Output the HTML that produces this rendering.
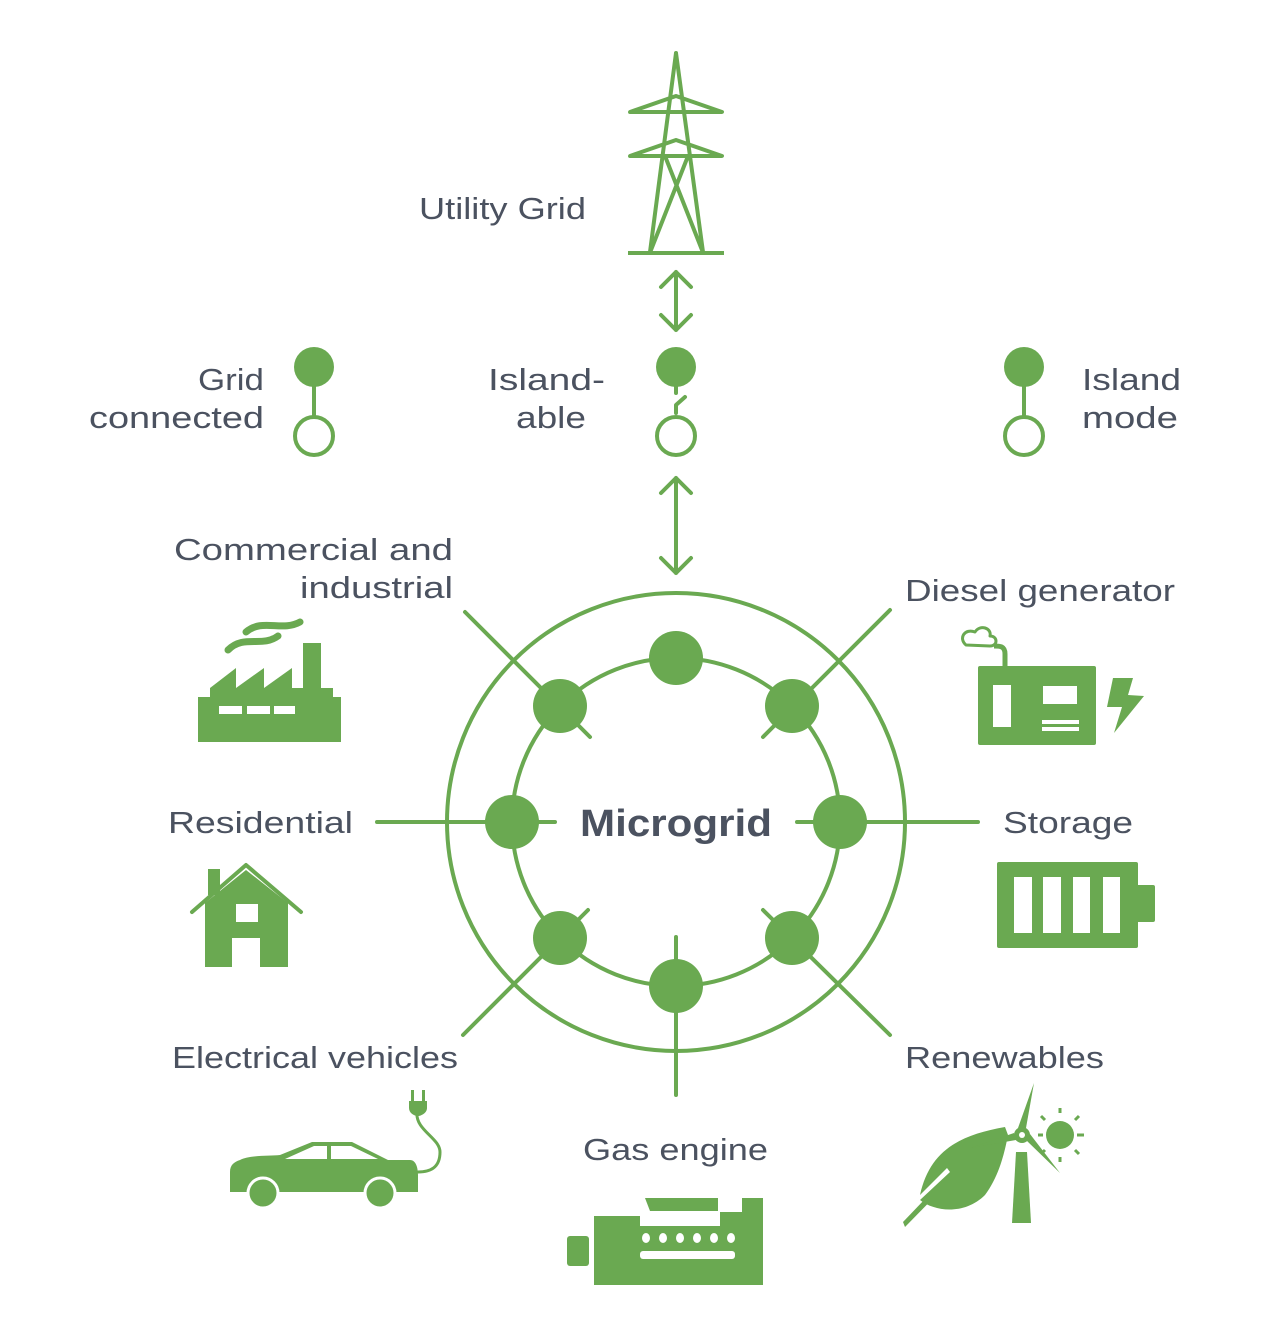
<!DOCTYPE html>
<html><head><meta charset="utf-8"><style>
html,body{margin:0;padding:0;background:#fff;}
svg{display:block}
text{font-family:"Liberation Sans",sans-serif;fill:#4b5260;font-size:31px;}
</style></head><body>
<svg width="1271" height="1328" viewBox="0 0 1271 1328" xmlns="http://www.w3.org/2000/svg">
<g stroke="#6aa951" fill="none" stroke-width="4" stroke-linecap="round" stroke-linejoin="round">
 <path d="M676 53 L650 252 M676 53 L703 252 M630 112 L676 96 L722 112 Z M630 156 L676 140 L722 156 Z M665 156 L702 250 M688 156 L651 250"/>
 <path d="M628 253 L724 253" stroke-linecap="butt"/>
 <path d="M676 272 V330 M661 287 L676 272 L691 287 M661 315 L676 330 L691 315"/>
 <path d="M676 478 V573 M661 493 L676 478 L691 493 M661 558 L676 573 L691 558"/>
 <path d="M676 380 V393 M676 413 V405 L685 397"/>
 <circle cx="676" cy="436" r="19"/>
 <path d="M314 380 V417"/><circle cx="314" cy="436" r="19"/>
 <path d="M1024 380 V417"/><circle cx="1024" cy="436" r="19"/>
 <circle cx="676" cy="822" r="229"/>
 <circle cx="676" cy="822" r="164"/>
 <path d="M465 612 L590 737 M890 610 L763 737 M377 822 L555 822 M797 822 L978 822 M463 1035 L588 910 M763 910 L890 1035 M676 937 V1095"/>
 <path d="M246 632 C262 618 282 632 300 622 M228 650 C244 634 262 648 278 636" stroke-width="7"/>
 <path d="M192 912 L246 865 L301 912"/>
 <path d="M966 645 C958 638 965 628 975 632 C980 624 992 628 990 636 C998 636 998 646 990 646 Z" stroke-width="3"/>
 <path d="M1005 666 V654 C1005 646 1000 646 994 646" stroke-width="5" stroke-linecap="butt"/>
 <path d="M417 1112 C415 1130 440 1138 440 1152 C440 1168 430 1172 418 1172" stroke-width="3"/>
</g>
<g fill="#6aa951">
 <circle cx="676" cy="367" r="20"/>
 <circle cx="314" cy="367" r="20"/>
 <circle cx="1024" cy="367" r="20"/>
 <circle cx="676" cy="658" r="27"/><circle cx="560" cy="706" r="27"/><circle cx="792" cy="706" r="27"/>
 <circle cx="512" cy="822" r="27"/><circle cx="840" cy="822" r="27"/>
 <circle cx="560" cy="938" r="27"/><circle cx="792" cy="938" r="27"/><circle cx="676" cy="986" r="27"/>
 <path d="M198 697 H210 V688 L236 668 V688 L264 668 V688 L292 668 V688 H303 V643 H321 V688 H333 V697 H341 V742 H198 Z"/>
 <path d="M205 903 L246 870 L288 903 V967 H260 V938 H232 V967 H205 Z"/>
 <rect x="208" y="869" width="12" height="26"/>
 <rect x="978" y="666" width="118" height="79" rx="2"/>
 <path d="M1113 678 H1133 L1128 695 L1144 696 L1114 733 L1122 707 H1107 Z"/>
 <rect x="997" y="862" width="141" height="86" rx="2"/>
 <rect x="1136" y="885" width="19" height="37" rx="2"/>
 <path d="M240 1160 C250 1155 270 1156 280 1155 L312 1142 H352 L388 1160 H410 C416 1160 418 1168 418 1175 V1192 H230 V1172 C230 1165 234 1162 240 1160 Z"/>
 <circle cx="263" cy="1193" r="15" stroke="#fff" stroke-width="3"/>
 <circle cx="380" cy="1193" r="15" stroke="#fff" stroke-width="3"/>
 <path d="M409 1101 H427 V1108 C427 1113 421 1116 418 1116 C414 1116 409 1113 409 1108 Z"/>
 <rect x="411" y="1090" width="3" height="12"/><rect x="422" y="1090" width="3" height="12"/>
 <path d="M594 1216 H640 V1226 H720 V1212 H742 V1198 H763 V1285 H594 Z"/>
 <path d="M645 1198 H718 V1211 H650 Z"/>
 <rect x="567" y="1236" width="22" height="30" rx="3"/>
 <path d="M1005 1127 C960 1135 930 1150 920 1195 L947 1168 L950 1172 L920 1200 C935 1212 965 1215 985 1195 C1000 1175 1005 1150 1008 1135 Z"/>
 <path d="M905 1227 L903 1222 L947 1176 L951 1180 Z"/>
 <path d="M1016 1152 H1027 L1031 1223 H1012 Z"/>
 <path d="M1034 1083 L1026 1128 L1018 1128 Z"/>
 <path d="M1014 1133 L970 1148 L1016 1140 Z"/>
 <path d="M1026 1140 L1060 1173 L1030 1134 Z"/>
 <circle cx="1022" cy="1135" r="8"/>
 <circle cx="1060" cy="1135" r="14"/>
</g>
<g fill="#fff">
 <rect x="219" y="706" width="23" height="8"/><rect x="247" y="706" width="23" height="8"/><rect x="274" y="706" width="21" height="8"/>
 <rect x="236" y="904" width="22" height="18"/>
 <rect x="993" y="685" width="18" height="42"/><rect x="1043" y="686" width="34" height="18"/>
 <rect x="1042" y="720" width="37" height="4"/><rect x="1042" y="727" width="37" height="4"/>
 <rect x="1014" y="877" width="18" height="56"/><rect x="1043" y="877" width="18" height="56"/><rect x="1073" y="877" width="17" height="56"/><rect x="1103" y="877" width="17" height="56"/>
 <rect x="640" y="1251" width="95" height="8" rx="3"/>
 <ellipse cx="646" cy="1238" rx="4" ry="5"/><ellipse cx="663" cy="1238" rx="4" ry="5"/><ellipse cx="680" cy="1238" rx="4" ry="5"/><ellipse cx="697" cy="1238" rx="4" ry="5"/><ellipse cx="714" cy="1238" rx="4" ry="5"/><ellipse cx="731" cy="1238" rx="4" ry="5"/>
 <path d="M285 1159 L314 1146 H327 V1159 Z M331 1146 H351 L378 1159 H331 Z"/>
 <circle cx="1022" cy="1135" r="3"/>
</g>
<g stroke="#6aa951" stroke-width="3" stroke-linecap="butt">
 <path d="M1060 1113 V1108 M1060 1157 V1162 M1038 1135 H1043 M1077 1135 H1084 M1045 1120 L1041 1116 M1075 1120 L1079 1116 M1075 1150 L1079 1154 M1045 1150 L1041 1154"/>
</g>
<g lengthAdjust="spacingAndGlyphs">
<text x="419" y="219" textLength="167" lengthAdjust="spacingAndGlyphs">Utility Grid</text>
<text x="198" y="390" textLength="66" lengthAdjust="spacingAndGlyphs">Grid</text>
<text x="89" y="428" textLength="175" lengthAdjust="spacingAndGlyphs">connected</text>
<text x="488" y="390" textLength="117" lengthAdjust="spacingAndGlyphs">Island-</text>
<text x="516" y="428" textLength="70" lengthAdjust="spacingAndGlyphs">able</text>
<text x="1082" y="390" textLength="99" lengthAdjust="spacingAndGlyphs">Island</text>
<text x="1082" y="428" textLength="96" lengthAdjust="spacingAndGlyphs">mode</text>
<text x="174" y="560" textLength="279" lengthAdjust="spacingAndGlyphs">Commercial and</text>
<text x="300" y="598" textLength="153" lengthAdjust="spacingAndGlyphs">industrial</text>
<text x="905" y="601" textLength="270" lengthAdjust="spacingAndGlyphs">Diesel generator</text>
<text x="168" y="833" textLength="185" lengthAdjust="spacingAndGlyphs">Residential</text>
<text x="1003" y="833" textLength="130" lengthAdjust="spacingAndGlyphs">Storage</text>
<text x="580" y="836" textLength="192" lengthAdjust="spacingAndGlyphs" style="font-weight:bold;font-size:38px">Microgrid</text>
<text x="172" y="1068" textLength="286" lengthAdjust="spacingAndGlyphs">Electrical vehicles</text>
<text x="905" y="1068" textLength="199" lengthAdjust="spacingAndGlyphs">Renewables</text>
<text x="583" y="1160" textLength="185" lengthAdjust="spacingAndGlyphs">Gas engine</text>
</g>
</svg>
</body></html>
